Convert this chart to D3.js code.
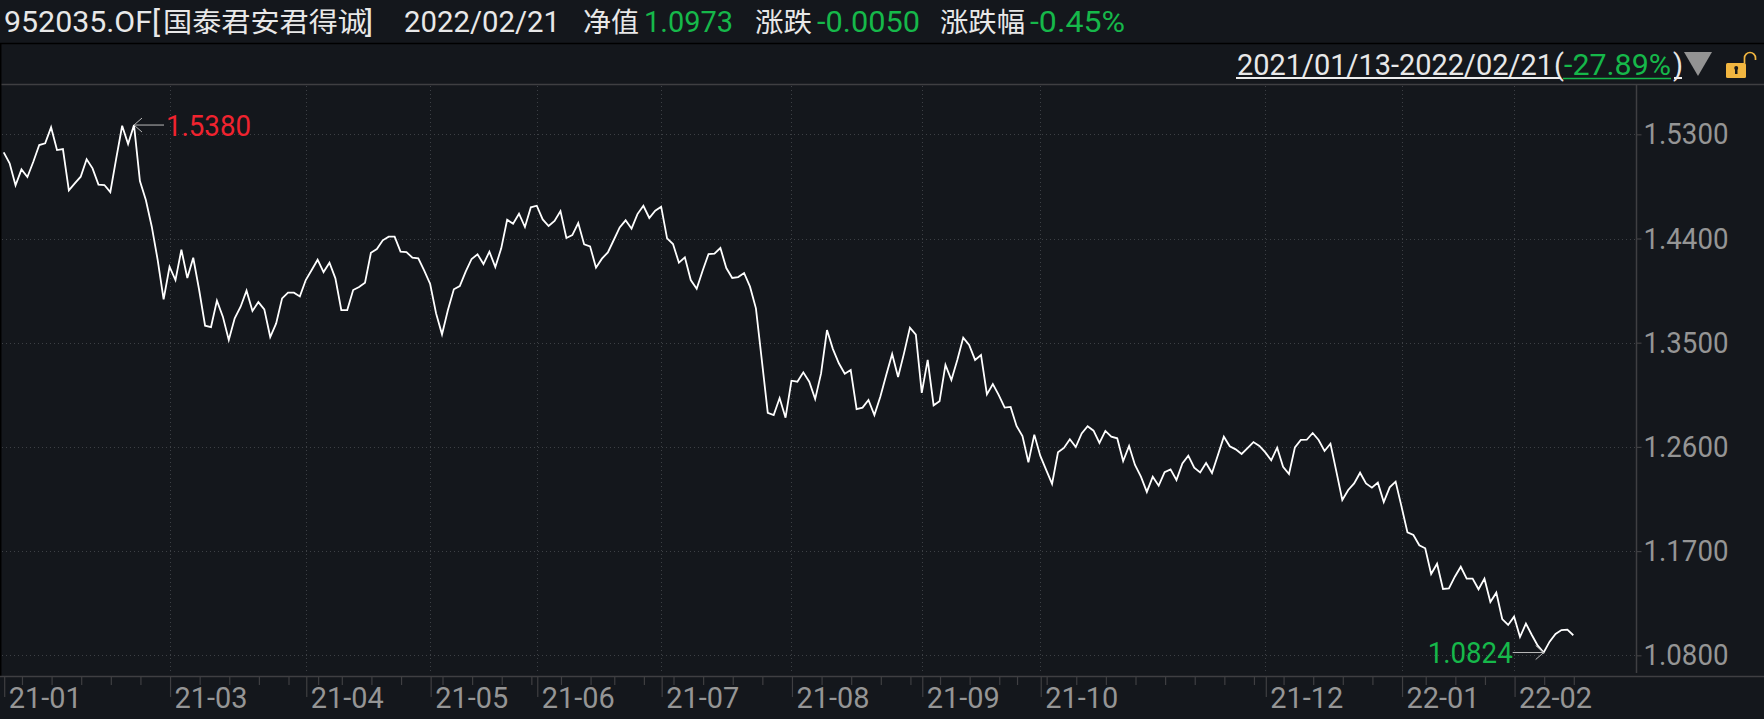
<!DOCTYPE html>
<html><head><meta charset="utf-8">
<script src="https://cdn.jsdelivr.net/npm/d3@7/dist/d3.min.js"></script>
<style>html,body{margin:0;padding:0;background:#14171c;overflow:hidden}svg{display:block}text{font-family:Roboto,"Noto Sans",sans-serif}.cjk{font-family:"Noto Sans CJK SC",sans-serif}</style>
</head><body><svg id="c" width="1764" height="719"></svg>
<script>
const navValues = [
1.5144,1.5049,1.4859,1.4997,1.4931,1.5063,1.5207,1.5222,1.5360,1.5164,
1.5173,1.4816,1.4876,1.4934,1.5084,1.5006,1.4865,1.4862,1.4801,1.5092,
1.5374,1.5216,1.5380,1.4896,1.4732,1.4502,1.4214,1.3874,1.4156,1.4041,
1.4303,1.4059,1.4234,1.3955,1.3647,1.3635,1.3863,1.3725,1.3523,1.3710,
1.3811,1.3949,1.3774,1.3851,1.3788,1.3549,1.3667,1.3883,1.3932,1.3932,
1.3900,1.4041,1.4128,1.4217,1.4110,1.4191,1.4056,1.3782,1.3782,1.3955,
1.3981,1.4018,1.4277,1.4309,1.4384,1.4416,1.4416,1.4286,1.4283,1.4234,
1.4228,1.4122,1.4007,1.3753,1.3572,1.3782,1.3961,1.3989,1.4113,1.4223,
1.4263,1.4179,1.4286,1.4154,1.4315,1.4562,1.4528,1.4614,1.4499,1.4669,
1.4683,1.4565,1.4508,1.4551,1.4637,1.4404,1.4430,1.4534,1.4349,1.4332,
1.4148,1.4226,1.4280,1.4387,1.4496,1.4557,1.4485,1.4611,1.4683,1.4577,
1.4640,1.4675,1.4401,1.4352,1.4191,1.4237,1.4041,1.3966,1.4122,1.4266,
1.4269,1.4318,1.4145,1.4059,1.4067,1.4102,1.3984,1.3797,1.3347,1.2895,
1.2875,1.3022,1.2852,1.3172,1.3163,1.3244,1.3163,1.3013,1.3235,1.3609,
1.3445,1.3322,1.3232,1.3264,1.2927,1.2939,1.3005,1.2875,1.3034,1.3221,
1.3403,1.3204,1.3408,1.3630,1.3570,1.3066,1.3351,1.2959,1.2994,1.3308,
1.3178,1.3351,1.3544,1.3480,1.3351,1.3394,1.3054,1.3143,1.3048,1.2939,
1.2945,1.2781,1.2694,1.2467,1.2706,1.2524,1.2401,1.2280,1.2553,1.2591,
1.2666,1.2599,1.2717,1.2778,1.2740,1.2634,1.2738,1.2689,1.2674,1.2478,
1.2608,1.2444,1.2343,1.2211,1.2343,1.2265,1.2381,1.2406,1.2314,1.2458,
1.2524,1.2421,1.2380,1.2461,1.2374,1.2530,1.2688,1.2605,1.2579,1.2539,
1.2590,1.2642,1.2608,1.2553,1.2484,1.2593,1.2429,1.2366,1.2596,1.2660,
1.2662,1.2720,1.2660,1.2565,1.2628,1.2386,1.2141,1.2228,1.2285,1.2377,
1.2285,1.2248,1.2291,1.2124,1.2251,1.2300,1.2084,1.1862,1.1839,1.1750,
1.1724,1.1502,1.1591,1.1373,1.1378,1.1479,1.1565,1.1462,1.1462,1.1370,
1.1462,1.1260,1.1341,1.1113,1.1062,1.1134,1.0958,1.1073,1.0975,1.0883,
1.0824,1.0918,1.0984,1.1018,1.1021,1.0973];
const yTicks = [1.53,1.44,1.35,1.26,1.17,1.08];
const monthIdx = [0,28,51,72,90,111,133,155,175,213,236,255];
const monthLabels = ['21-01','21-03','21-04','21-05','21-06','21-07','21-08','21-09','21-10','21-12','22-01','22-02'];
const weekIdx = [3,8,13,18,23,33,38,43,48,53,57,62,67,74,79,84,89,94,99,103,108,113,118,123,128,138,143,148,153,158,163,168,171,176,181,186,191,196,201,206,211,216,221,226,231,240,245,250,260,265];
const titleCode = '952035.OF[', titleName = '国泰君安君得诚', titleEnd = ']', headerDate = '2022/02/21';
const navLabel = '净值', navText = '1.0973', chgLabel = '涨跌', chgText = '-0.0050', pctLabel = '涨跌幅', pctText = '-0.45%';
const rangeText = '2021/01/13-2022/02/21', rangePct = '-27.89%';
const hiIdx = 22, loIdx = 260;

const BG='#14171c', GRID='#3d4045', AXIS='#3f3f42', GREEN='#16b84a', RED='#f0232f', TXT='#e8e8e8', MUTED='#959595';
const FS=30, CJK=27.5;
const svg = d3.select('#c');
svg.append('rect').attr('width',1764).attr('height',719).attr('fill',BG);

const x = d3.scaleLinear().domain([0,navValues.length-1]).range([3.7,1573.3]);
const y = d3.scaleLinear().domain([1.08,1.53]).range([655.3,134.3]);
const plotTop=84, plotBottom=673, axisY=676, axisX=1636;

// frame
svg.append('line').attr('x1',0).attr('x2',1764).attr('y1',43.5).attr('y2',43.5).attr('stroke','#000').attr('stroke-width',1.5);
svg.append('line').attr('x1',0).attr('x2',1764).attr('y1',84.5).attr('y2',84.5).attr('stroke',AXIS).attr('stroke-width',1.5);
svg.append('line').attr('x1',0.7).attr('x2',0.7).attr('y1',43).attr('y2',axisY).attr('stroke','#000').attr('stroke-width',1.5);
svg.append('line').attr('x1',axisX+.5).attr('x2',axisX+.5).attr('y1',plotTop).attr('y2',plotBottom).attr('stroke',AXIS).attr('stroke-width',1.5);
svg.append('line').attr('x1',0).attr('x2',1764).attr('y1',axisY+.5).attr('y2',axisY+.5).attr('stroke',AXIS).attr('stroke-width',1.5);

// grid
svg.append('g').selectAll('line').data(yTicks).join('line')
 .attr('x1',2).attr('x2',axisX).attr('y1',d=>Math.round(y(d))+.5).attr('y2',d=>Math.round(y(d))+.5)
 .attr('stroke',GRID).attr('stroke-dasharray','1 3');
svg.append('g').selectAll('line').data(monthIdx.slice(1)).join('line')
 .attr('x1',d=>Math.round(x(d))+.5).attr('x2',d=>Math.round(x(d))+.5).attr('y1',plotTop+2).attr('y2',plotBottom)
 .attr('stroke',GRID).attr('stroke-dasharray','1 3');

const fit=(sel,w)=>sel.attr('textLength',w).attr('lengthAdjust','spacingAndGlyphs');

// y axis
const yAxis = svg.append('g').attr('transform',`translate(${axisX+.5},0)`)
 .call(d3.axisRight(y).tickValues(yTicks).tickSize(5).tickPadding(2).tickFormat(d3.format('.4f')));
yAxis.select('.domain').remove();
yAxis.selectAll('line').attr('stroke',AXIS).attr('stroke-width',1.2);
fit(yAxis.selectAll('text').attr('fill',MUTED).attr('font-size',FS).attr('font-family','Roboto'),85);

// x axes
const wk = svg.append('g').attr('transform',`translate(.5,${axisY})`)
 .call(d3.axisBottom(x).tickValues(weekIdx).tickSize(9).tickFormat(''));
wk.select('.domain').remove();
wk.selectAll('line').attr('stroke',AXIS).attr('stroke-width',1.2);
const mo = svg.append('g').attr('transform',`translate(.5,${axisY})`)
 .call(d3.axisBottom(x).tickValues(monthIdx).tickSize(21).tickFormat((d,i)=>monthLabels[i]));
mo.select('.domain').remove();
mo.selectAll('line').attr('stroke',AXIS).attr('stroke-width',1.2);
fit(mo.selectAll('text').attr('fill',MUTED).attr('font-size',FS).attr('font-family','Roboto').attr('text-anchor','start')
  .attr('dy',0).attr('x',4).attr('y',32),73);

// line
svg.append('path').datum(navValues)
 .attr('d',d3.line().x((d,i)=>x(i)).y(d=>y(d)))
 .attr('fill','none').attr('stroke','#fff').attr('stroke-width',1.8).attr('stroke-linejoin','miter');

// extrema annotation
const hx=x(hiIdx), hy=y(navValues[hiIdx]), lx=x(loIdx), ly=y(navValues[loIdx]);
const ann = svg.append('g').attr('fill','none').attr('stroke','#b9b9b9').attr('stroke-width',1);
ann.append('path').attr('d',`M${hx+30},${hy}H${hx}M${hx+8},${hy-7}L${hx},${hy}L${hx+8},${hy+7}`);
ann.append('path').attr('d',`M${lx-31},${ly}H${lx}M${lx-8},${ly-7}L${lx},${ly}L${lx-8},${ly+7}`);
fit(svg.append('text').attr('x',hx+32).attr('y',hy+10.5).attr('fill',RED).attr('font-size',FS).text(navValues[hiIdx].toFixed(4)),85);
fit(svg.append('text').attr('x',lx-116).attr('y',ly+10).attr('fill',GREEN).attr('font-size',FS).text(navValues[loIdx].toFixed(4)),85);

// header
const hdr=(t,xp,yp,c,w,fs=FS)=>fit(svg.append('text').attr('x',xp).attr('y',yp).attr('fill',c).attr('font-size',fs).text(t),w);
const cjk=(t,xp,yp,c,w)=>hdr(t,xp,yp,c,w,CJK).attr('class','cjk');
hdr(titleCode,4,32,TXT,156);
cjk(titleName,163,32,TXT,204);
hdr(titleEnd,365,32,TXT,8);
hdr(headerDate,404,32,TXT,156);
cjk(navLabel,583,32,TXT,56);
hdr(navText,644,32,GREEN,89);
cjk(chgLabel,755,32,TXT,57);
hdr(chgText,817,32,GREEN,103);
cjk(pctLabel,940,32,TXT,85);
hdr(pctText,1030,32,GREEN,95);

// range line
hdr(rangeText,1237,75,TXT,316,29);
hdr(rangePct,1564,75,GREEN,107,29);
svg.append('text').attr('x',1554).attr('y',75).attr('fill',TXT).attr('font-size',29).text('(');
svg.append('text').attr('x',1673).attr('y',75).attr('fill',TXT).attr('font-size',29).text(')');
svg.append('line').attr('x1',1236).attr('x2',1561).attr('y1',78).attr('y2',78).attr('stroke','#eee').attr('stroke-width',2);
svg.append('line').attr('x1',1563).attr('x2',1671).attr('y1',78.5).attr('y2',78.5).attr('stroke',GREEN).attr('stroke-width',1.5);
svg.append('line').attr('x1',1674).attr('x2',1682).attr('y1',78).attr('y2',78).attr('stroke','#eee').attr('stroke-width',2);
svg.append('path').attr('d','M1684,52H1712L1698,76Z').attr('fill','#939393');
// lock
svg.append('rect').attr('x',1726).attr('y',63).attr('width',20).attr('height',15).attr('rx',1.5).attr('fill','#f2b640');
svg.append('path').attr('d','M1744.5,63V58A5.5,5.5 0 0 1 1755.5,58V60').attr('fill','none').attr('stroke','#f2b640').attr('stroke-width',1.7);
svg.append('path').attr('d','M1735,68h2.5v6h-2.5z').attr('fill','#1a1a1a');
svg.append('circle').attr('cx',1736.2).attr('cy',68).attr('r',2).attr('fill','#1a1a1a');
</script></body></html>
